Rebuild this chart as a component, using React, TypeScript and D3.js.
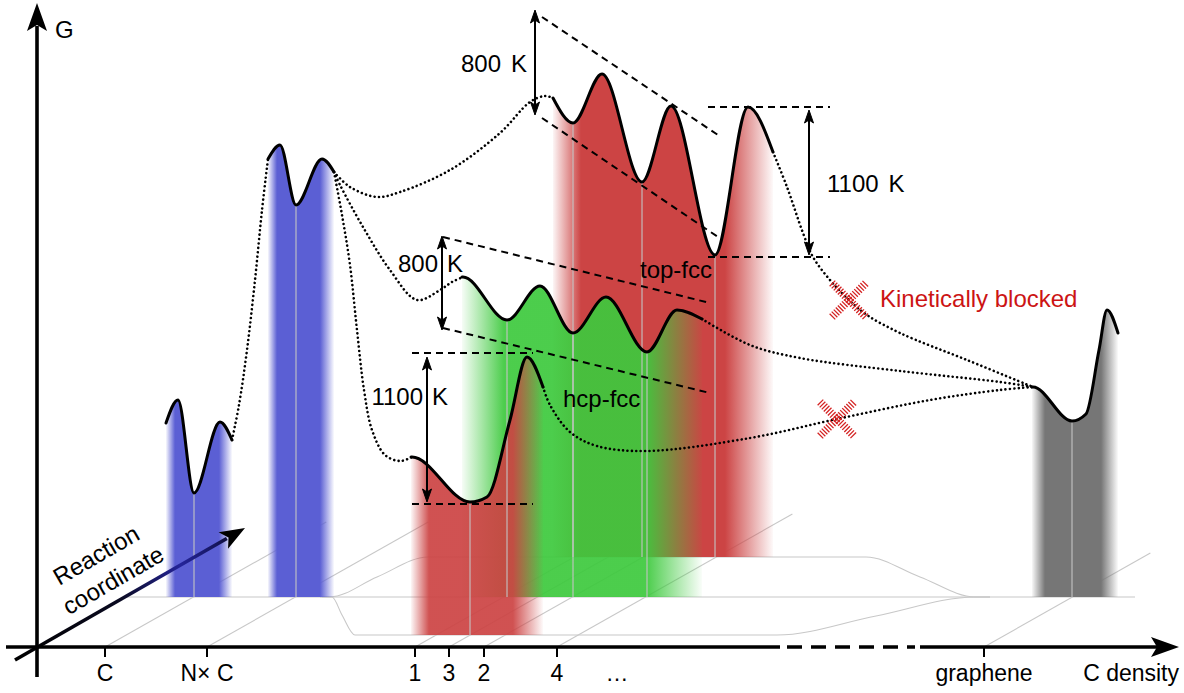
import React from "react";
import * as d3 from "d3";

type P = [number, number];

// ---------- data (x: position along the C-density axis, G: free energy, arbitrary units) ----------
const tickNames = ["C", "N\u00d7 C", "1", "3", "2", "4", "graphene"];
const tickX = [68, 170, 378, 412, 447, 520, 947];
const tickDepth = [125, 125, 130, 130, 130, 133, 94];
const ellipsisX = 580;

const blue1Curve: P[] = [[129, 224], [141, 247], [157, 154], [183, 225], [195, 207]];
const blue2Curve: P[] = [[231, 488], [243, 502], [259, 442], [285, 488], [297, 475]];
const red1Curve: P[] = [[374, 190], [375, 190], [433, 145], [450, 150], [473, 227], [490, 290], [506, 260]];
const greenCurve: P[] = [[425, 370], [426, 370], [470, 327], [503, 361], [536, 314], [569, 350], [610, 295], [640, 337], [665, 328]];
const redTopCurve: P[] = [[516, 549], [536, 524], [565, 573], [605, 465], [634, 541], [678, 392], [711, 540], [736, 495]];
const grayCurve: P[] = [[995, 260], [996, 260], [1035, 226], [1049, 233], [1062, 297], [1070, 337], [1081, 314]];

const pathBlue1ToBlue2: P[] = [[195, 207], [202, 242], [210, 297], [218, 367], [225, 437], [231, 488]];
const pathToTop: P[] = [[297, 475], [313, 460], [340, 450], [363, 455], [413, 477], [463, 514], [493, 545], [508, 551], [516, 549]];
const pathToGreen: P[] = [[297, 475], [303, 462], [326, 420], [353, 377], [380, 347], [403, 357], [415, 365], [426, 370]];
const pathToRed1: P[] = [[297, 475], [305, 432], [313, 382], [320, 317], [327, 257], [335, 217], [348, 192], [363, 186], [375, 190]];
const pathTopToGraphene: P[] = [[736, 495], [750, 460], [766, 414], [776, 390], [793, 367], [812, 347], [830, 332], [863, 314], [930, 287], [996, 260]];
const pathGreenToGraphene: P[] = [[665, 328], [713, 302], [763, 289], [863, 276], [963, 265], [996, 260]];
const pathRed1ToGraphene: P[] = [[506, 260], [513, 242], [533, 215], [560, 201], [610, 196], [713, 209], [800, 228], [893, 247], [963, 257], [996, 260]];

const floorFront: P[] = [[285, 50], [295, 50], [305, 32], [318, 12], [740, 12], [839, 31], [938, 50], [953, 50]];
const floorBack: P[] = [[283, 50], [293, 50], [340, 70], [391, 90], [829, 90], [883, 70], [938, 50], [953, 50]];
const floorMiddle: P[] = [[89, 50], [1098, 50]];

const barrierLabels = ["800 K", "800 K", "1100 K", "1100 K"];
const barrierX = [498, 405, 390, 772];
const barrierTop = [637, 411, 290, 537];
const barrierBottom = [532, 317, 145, 392];
const guideLines: [P, P][] = [
  [[505, 630], [681, 512]], [[505, 529], [681, 410]],
  [[406, 410], [673, 344]], [[406, 319], [673, 254]],
  [[375, 294], [496, 294]], [[375, 143], [496, 143]],
  [[671, 540], [793, 540]], [[671, 390], [793, 390]],
];
const blockedPoints: P[] = [[812, 347], [800, 228]];
const reactionArrow: [P, P] = [[-22, -13], [208, 119]];

// ---------- scales ----------
const xs = d3.scaleLinear().domain([0, 1141]).range([37, 1178]);
const ys = d3.scaleLinear().domain([0, 643]).range([647, 4]);

const solidLine = d3.line<P>().x(d => xs(d[0])).y(d => ys(d[1])).curve(d3.curveMonotoneX);
const dotLine = d3.line<P>().x(d => xs(d[0])).y(d => ys(d[1])).curve(d3.curveCatmullRom.alpha(0.5));

const FONT = "'Liberation Sans', Arial, sans-serif";
const FS = 24;
const FS_AXIS = 23;

type Band = { id: string; curve: P[]; floor: number; color: string; fadeL: number; fadeR: number; opacity: number; mins: number[] };
const bands: Band[] = [
  { id: "redTop", curve: redTopCurve, floor: 90, color: "#cc4444", fadeL: 28, fadeR: 48, opacity: 1, mins: [1, 3, 5] },
  { id: "blue1", curve: blue1Curve, floor: 50, color: "#5b5fd4", fadeL: 9, fadeR: 13, opacity: 1, mins: [2] },
  { id: "blue2", curve: blue2Curve, floor: 50, color: "#5b5fd4", fadeL: 9, fadeR: 14, opacity: 1, mins: [2] },
  { id: "green", curve: greenCurve, floor: 50, color: "#3dc93d", fadeL: 42, fadeR: 55, opacity: 0.92, mins: [2, 4, 6] },
  { id: "gray", curve: grayCurve, floor: 50, color: "#767676", fadeL: 13, fadeR: 17, opacity: 1, mins: [2] },
  { id: "red1", curve: red1Curve, floor: 12, color: "#cc4343", fadeL: 18, fadeR: 30, opacity: 0.92, mins: [2] },
];

function Arrow2({ x, y0, y1 }: { x: number; y0: number; y1: number }) {
  const px = xs(x);
  const a = ys(y0), b = ys(y1);
  const head = (ty: number, dir: number) =>
    `M${px},${ty} L${px - 4.5},${ty + dir * 13} L${px},${ty + dir * 10} L${px + 4.5},${ty + dir * 13} Z`;
  return (
    <g>
      <line x1={px} x2={px} y1={a + 6} y2={b - 6} stroke="#000" strokeWidth={2} />
      <path d={head(a, 1)} fill="#000" stroke="#000" strokeWidth={1} strokeLinejoin="round" />
      <path d={head(b, -1)} fill="#000" stroke="#000" strokeWidth={1} strokeLinejoin="round" />
    </g>
  );
}

function SplitLabel({ text, x, y, anchor }: { text: string; x: number; y: number; anchor: "start" | "end" | "split" }) {
  const [num, unit] = text.split(" ");
  if (anchor === "split") {
    return (
      <g>
        <text x={x - 4} y={y} textAnchor="end">{num}</text>
        <text x={x + 5} y={y}>{unit}</text>
      </g>
    );
  }
  return (
    <text x={x} y={y} textAnchor={anchor}>
      <tspan>{num}</tspan>
      <tspan dx={10}>{unit}</tspan>
    </text>
  );
}

function Blocked({ p }: { p: P }) {
  const cx = xs(p[0]), cy = ys(p[1]);
  const r = 17;
  return (
    <g stroke="#d42424" strokeWidth={8} strokeDasharray="1.3 1.6">
      <line x1={cx - r} y1={cy - r} x2={cx + r} y2={cy + r} />
      <line x1={cx - r} y1={cy + r} x2={cx + r} y2={cy - r} />
    </g>
  );
}

export default function App() {
  const area = (b: Band) =>
    d3.area<P>().x(d => xs(d[0])).y0(ys(b.floor)).y1(d => ys(d[1])).curve(d3.curveMonotoneX)(b.curve) || "";

  const [ra0, ra1] = reactionArrow;
  const rx0 = xs(ra0[0]), ry0 = ys(ra0[1]), rx1 = xs(ra1[0]), ry1 = ys(ra1[1]);
  const rlen = Math.hypot(rx1 - rx0, ry1 - ry0);
  const ux = (rx1 - rx0) / rlen, uy = (ry1 - ry0) / rlen;
  const hl = 25, hw = 9.5;
  const bx = rx1 - ux * hl, by = ry1 - uy * hl;
  const nx = -uy, ny = ux;
  const rHead = `M${rx1},${ry1} L${bx + nx * hw},${by + ny * hw} L${rx1 - ux * (hl - 6)},${ry1 - uy * (hl - 6)} L${bx - nx * hw},${by - ny * hw} Z`;

  const axisY = ys(0);
  const axisX = xs(0);

  return (
    <svg width={1184} height={693} style={{ position: "absolute", left: 0, top: 0 }} fontFamily={FONT}>
      <defs>
        {bands.map(b => {
          const x0 = xs(b.curve[0][0]);
          const x1 = xs(b.curve[b.curve.length - 1][0]);
          const w = x1 - x0;
          return (
            <linearGradient key={b.id} id={`g-${b.id}`} gradientUnits="userSpaceOnUse" x1={x0} x2={x1} y1={0} y2={0}>
              <stop offset={0} stopColor={b.color} stopOpacity={0.05} />
              <stop offset={b.fadeL / w} stopColor={b.color} stopOpacity={1} />
              <stop offset={1 - b.fadeR / w} stopColor={b.color} stopOpacity={1} />
              <stop offset={1} stopColor={b.color} stopOpacity={0.03} />
            </linearGradient>
          );
        })}
        <linearGradient id="g-react" gradientUnits="userSpaceOnUse" x1={rx0} y1={ry0} x2={rx1} y2={ry1}>
          <stop offset={0} stopColor="#000" />
          <stop offset={0.45} stopColor="#0a0a20" />
          <stop offset={0.72} stopColor="#24249a" />
          <stop offset={0.88} stopColor="#15155a" />
          <stop offset={1} stopColor="#000" />
        </linearGradient>
      </defs>

      {/* floor / depth guide lines */}
      <g stroke="#c8c8c8" strokeWidth={1.1} fill="none">
        <path d={solidLine(floorMiddle) || ""} />
        <path d={solidLine(floorBack) || ""} />
        <path d={solidLine(floorFront) || ""} />
        {tickX.map((t, i) => (
          <line key={i} x1={xs(t)} y1={ys(0)} x2={xs(t + tickDepth[i] / 0.565)} y2={ys(tickDepth[i])} />
        ))}
      </g>

      {/* coloured bands */}
      {bands.map(b => (
        <path key={b.id} d={area(b)} fill={`url(#g-${b.id})`} fillOpacity={b.opacity} />
      ))}

      {/* centre lines */}
      <g stroke="#c4c4c4" strokeWidth={1.1}>
        {bands.flatMap(b =>
          b.mins.map(k => (
            <line key={b.id + k} x1={xs(b.curve[k][0])} x2={xs(b.curve[k][0])} y1={ys(b.curve[k][1])} y2={ys(b.floor)} />
          ))
        )}
      </g>

      {/* dotted transition paths */}
      <g fill="none" stroke="#000" strokeWidth={2.6} strokeDasharray="0.01 4.4" strokeLinecap="round">
        {[pathBlue1ToBlue2, pathToTop, pathToGreen, pathToRed1, pathTopToGraphene, pathGreenToGraphene, pathRed1ToGraphene].map((p, i) => (
          <path key={i} d={dotLine(p) || ""} />
        ))}
      </g>

      {/* dashed guides */}
      <g stroke="#000" strokeWidth={2} strokeDasharray="7 5">
        {guideLines.map((g, i) => (
          <line key={i} x1={xs(g[0][0])} y1={ys(g[0][1])} x2={xs(g[1][0])} y2={ys(g[1][1])} />
        ))}
      </g>

      {/* solid energy curves */}
      <g fill="none" stroke="#000" strokeWidth={3} strokeLinecap="round">
        {[blue1Curve, blue2Curve, red1Curve, greenCurve, redTopCurve, grayCurve].map((c, i) => (
          <path key={i} d={solidLine(c) || ""} />
        ))}
      </g>

      {/* barrier arrows */}
      {barrierX.map((x, i) => (
        <Arrow2 key={i} x={x} y0={barrierTop[i]} y1={barrierBottom[i]} />
      ))}

      {/* blocked markers */}
      {blockedPoints.map((p, i) => <Blocked key={i} p={p} />)}

      {/* labels */}
      <g fontSize={FS} fill="#000">
        <SplitLabel text={barrierLabels[0]} x={xs(490)} y={ys(575)} anchor="end" />
        <SplitLabel text={barrierLabels[1]} x={xs(barrierX[1])} y={ys(375)} anchor="split" />
        <SplitLabel text={barrierLabels[2]} x={xs(barrierX[2])} y={ys(242)} anchor="split" />
        <SplitLabel text={barrierLabels[3]} x={xs(790)} y={ys(455)} anchor="start" />
        <text x={xs(603)} y={ys(369)}>top-fcc</text>
        <text x={xs(526)} y={ys(240)}>hcp-fcc</text>
        <text x={xs(843)} y={ys(340)} fill="#cc1414">Kinetically blocked</text>
        <text x={55} y={38}>G</text>
      </g>

      {/* reaction coordinate arrow */}
      <line x1={rx0} y1={ry0} x2={bx + ux * 4} y2={by + uy * 4} stroke="url(#g-react)" strokeWidth={3.6} />
      <path d={rHead} fill="#000" />
      <g fontSize={FS} fill="#000">
        <text transform={`translate(96,555) rotate(-30)`} textAnchor="middle" dominantBaseline="central">Reaction</text>
        <text transform={`translate(113,580) rotate(-30)`} textAnchor="middle" dominantBaseline="central">coordinate</text>
      </g>

      {/* axes */}
      <g stroke="#000" strokeWidth={3.6}>
        <line x1={axisX} y1={677} x2={axisX} y2={26} />
        <line x1={6} y1={axisY} x2={780} y2={axisY} />
        <line x1={787} y1={axisY} x2={915} y2={axisY} strokeDasharray="15 9" />
        <line x1={920} y1={axisY} x2={1158} y2={axisY} />
      </g>
      <path d={`M${axisX},3 L${axisX - 10},31 L${axisX},25 L${axisX + 10},31 Z`} fill="#000" />
      <path d={`M1179,${axisY} L1151,${axisY - 10} L1157,${axisY} L1151,${axisY + 10} Z`} fill="#000" />
      <g stroke="#000" strokeWidth={2}>
        {tickX.map((t, i) => (
          <line key={i} x1={xs(t)} x2={xs(t)} y1={axisY} y2={axisY + 10} />
        ))}
      </g>
      <g fontSize={FS_AXIS} fill="#000" textAnchor="middle">
        {tickX.map((t, i) => (
          <text key={i} x={xs(t)} y={681}>{tickNames[i]}</text>
        ))}
        <text x={xs(ellipsisX)} y={681}>{"\u2026"}</text>
        <text x={1179} y={681} textAnchor="end">C density</text>
      </g>
    </svg>
  );
}
